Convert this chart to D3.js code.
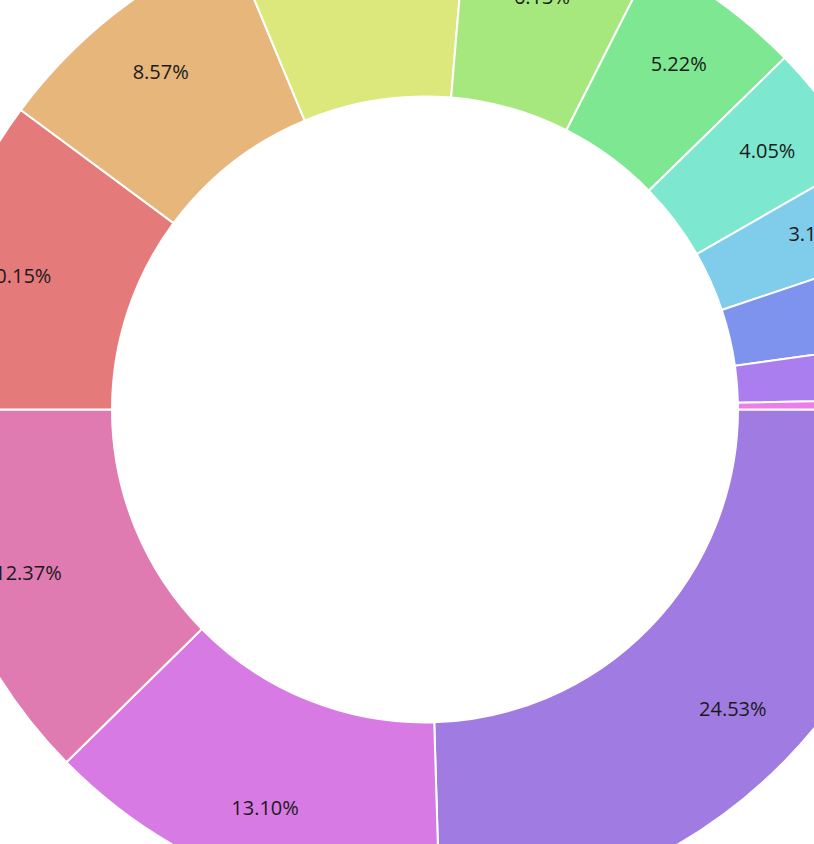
<!DOCTYPE html>
<html>
<head>
<meta charset="utf-8">
<script src="https://cdn.jsdelivr.net/npm/d3@7"></script>
<style>
  html, body { margin: 0; padding: 0; background: #fff; overflow: hidden; }
  text { font-family: "Open Sans", "Noto Sans", sans-serif; }
</style>
</head>
<body>
<div id="wrapper"></div>
<script>
// slices, largest first (clockwise from 3 o'clock)
const categories = ["A", "B", "C", "D", "E", "F", "G", "H", "I", "J", "K", "L", "M"]
const shares = [24.53, 13.10, 12.37, 10.15, 8.57, 7.61, 6.13, 5.22, 4.05, 3.12, 2.92, 1.89, 0.34]
const palette = [
  "#a07be2", "#d87ae3", "#e07bb2", "#e57a7a", "#e6b67b", "#dde87c", "#a6e87e",
  "#7de891", "#7de8cf", "#7fcdea", "#7e93ee", "#ab7eef", "#ea7fea"
]

function draw() {
  const dataset = categories.map((c, i) => ({ category: c, share: shares[i] }))

  const dimensions = {
    width: 814,
    height: 844,
    cx: 425,
    cy: 409.5,
    innerRadius: 313,
    outerRadius: 503,
    labelRadius: 429,
  }

  const wrapper = d3.select("#wrapper")
    .append("svg")
    .attr("width", dimensions.width)
    .attr("height", dimensions.height)

  const bounds = wrapper.append("g")
    .attr("transform", `translate(${dimensions.cx}, ${dimensions.cy})`)

  const color = d3.scaleOrdinal()
    .domain(categories)
    .range(palette)

  const pie = d3.pie()
    .sort(null)
    .value(d => d.share)
    .startAngle(Math.PI / 2)
    .endAngle(Math.PI / 2 + Math.PI * 2)

  const arc = d3.arc()
    .innerRadius(dimensions.innerRadius)
    .outerRadius(dimensions.outerRadius)

  const labelArc = d3.arc()
    .innerRadius(dimensions.labelRadius)
    .outerRadius(dimensions.labelRadius)

  const arcs = pie(dataset)

  bounds.append("g")
    .selectAll("path")
    .data(arcs)
    .join("path")
      .attr("d", arc)
      .attr("fill", d => color(d.data.category))
      .attr("stroke", "#fff")
      .attr("stroke-width", 2)

  bounds.append("g")
    .selectAll("text")
    .data(arcs)
    .join("text")
      .attr("transform", d => `translate(${labelArc.centroid(d)})`)
      .attr("text-anchor", "middle")
      .attr("dominant-baseline", "central")
      .style("font-size", "20px")
      .style("fill", "#1a1a1a")
      .text(d => d3.format(".2f")(d.data.share) + "%")
}

draw()
</script>
</body>
</html>
